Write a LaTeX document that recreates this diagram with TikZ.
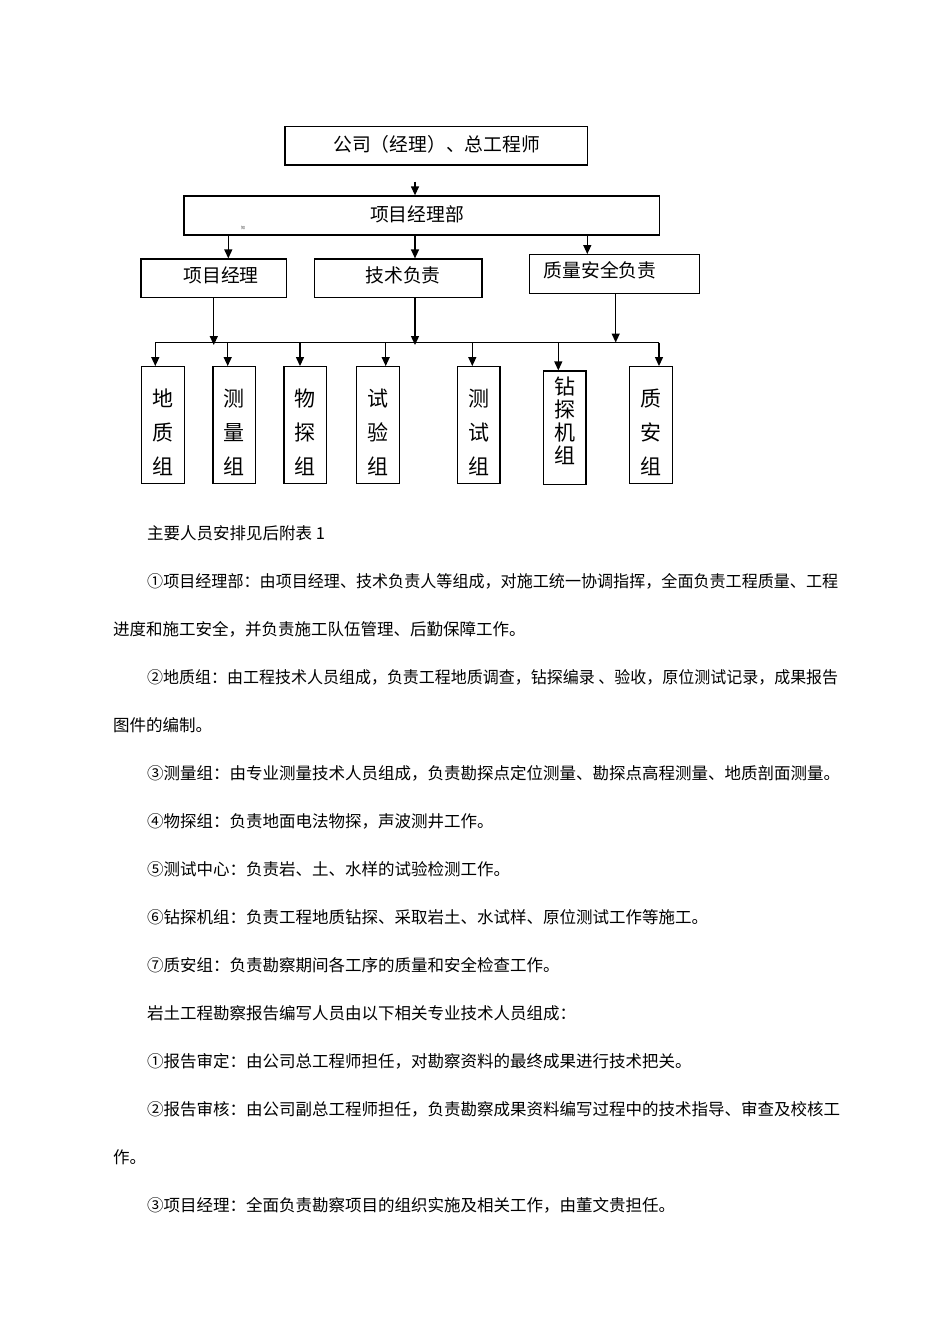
\documentclass[tikz,border=0pt]{standalone}
\usepackage{fontspec}
\usepackage{graphicx}
\setmainfont{Noto Sans CJK SC}
\usetikzlibrary{arrows.meta}
\begin{document}
\begin{tikzpicture}[x=1pt,y=-1pt,
  box/.style={draw, line width=1.3pt, inner sep=0pt},
  arr/.style={line width=1.3pt, -{Triangle[length=9pt,width=8pt]}},
  ln/.style={line width=1.3pt},
  lbl/.style={inner sep=0pt, font=\fontsize{18.8}{20}\selectfont},
  vlbl/.style={inner sep=0pt, align=center, font=\fontsize{21}{34}\selectfont},
  vlblb/.style={inner sep=0pt, align=center, font=\fontsize{21}{23}\selectfont},
  body/.style={inner sep=0pt, anchor=west, font=\fontsize{16.5}{18}\selectfont},
  gbox/.style={box, minimum width=42.7pt, minimum height=116.6pt}
]
\fill[white] (0,0) rectangle (950,1344);
\useasboundingbox (0,0) rectangle (950,1344);

% upper boxes
\node (top) [box, minimum width=302.7pt, minimum height=38.3pt] at (436.3,145.9) {};
\node (toptxt) [lbl] at (436.7,144.3) {公司（经理）、总工程师};
\node (pmd) [box, minimum width=475.3pt, minimum height=39pt] at (421.7,215.5) {};
\node (pmdtxt) [lbl] at (417,214) {项目经理部};
\node (mark) [inner sep=0pt, font=\fontsize{4}{4}\selectfont, text=black!70] at (243,228) {知};
\node (pm) [box, minimum width=145.5pt, minimum height=38.3pt] at (213.8,278.2) {};
\node (pmtxt) [lbl] at (221,275.5) {项目经理};
\node (tech) [box, minimum width=167.2pt, minimum height=38.3pt] at (398.4,278.2) {};
\node (techtxt) [lbl] at (403,275.5) {技术负责};
\node (qs) [box, minimum width=170pt, minimum height=38.6pt] at (614.5,274) {};
\node (qstxt) [lbl] at (600,270.7) {质量安全负责};

% group boxes
\node (b1) [gbox] at (163,425) {};
\node (b2) [gbox] at (234.35,425) {};
\node (b3) [gbox] at (305.35,425) {};
\node (b4) [gbox] at (378,425) {};
\node (b5) [gbox] at (478.65,425) {};
\node (b6) [box, minimum width=42.7pt, minimum height=113.3pt] at (564.65,427.7) {};
\node (b7) [gbox] at (650.8,425) {};

\node (b1t) [vlbl] at (163,432.7) {地\\质\\组};
\node (b2t) [vlbl] at (234.35,432.7) {测\\量\\组};
\node (b3t) [vlbl] at (305.35,432.7) {物\\探\\组};
\node (b4t) [vlbl] at (378,432.7) {试\\验\\组};
\node (b5t) [vlbl] at (478.65,432.7) {测\\试\\组};
\node (b6t) [vlblb] at (564.65,420.5) {钻\\探\\机\\组};
\node (b7t) [vlbl] at (650.8,432.7) {质\\安\\组};

% connectors
\coordinate (a0) at (415,181.7);
\draw[arr] (a0) -- (a0 |- pmd.north);
\coordinate (a1) at (228.3,0);
\coordinate (a2) at (415,0);
\coordinate (a3) at (587.3,0);
\draw[arr] (a1 |- pmd.south) -- (a1 |- pm.north);
\draw[arr] (a2 |- pmd.south) -- (a2 |- tech.north);
\draw[arr] (a3 |- pmd.south) -- (a3 |- qs.north);

\coordinate (k1) at (213.8,345);
\coordinate (k2) at (415,345);
\coordinate (k3) at (615.7,342.5);
\draw[arr] (k1 |- pm.south) -- (k1);
\draw[arr] (k2 |- tech.south) -- (k2);
\draw[arr] (k3 |- qs.south) -- (k3);

\coordinate (j1) at (155.3,342.5);
\coordinate (j2) at (227.7,342.5);
\coordinate (j3) at (300,342.5);
\coordinate (j4) at (385.7,342.5);
\coordinate (j5) at (472.3,342.5);
\coordinate (j6) at (558.3,342.5);
\coordinate (j7) at (659,342.5);
\draw[ln] (j1) -- (j7);
\draw[arr] (j1) -- (j1 |- b1.north);
\draw[arr] (j2) -- (j2 |- b2.north);
\draw[arr] (j3) -- (j3 |- b3.north);
\draw[arr] (j4) -- (j4 |- b4.north);
\draw[arr] (j5) -- (j5 |- b5.north);
\draw[arr] (j6) -- (j6 |- b6.north);
\draw[arr] (j7) -- (j7 |- b7.north);

% body text
\node (t1) [body] at (147,533) {主要人员安排见后附表 1};
\node (t2) [body] at (147,581) {\resizebox{691pt}{\height}{①项目经理部：由项目经理、技术负责人等组成，对施工统一协调指挥，全面负责工程质量、工程}};
\node (t3) [body] at (113,629) {进度和施工安全，并负责施工队伍管理、后勤保障工作。};
\node (t4) [body] at (147,677) {\resizebox{691pt}{\height}{②地质组：由工程技术人员组成，负责工程地质调查，钻探编录 、验收，原位测试记录，成果报告}};
\node (t5) [body] at (113,725) {图件的编制。};
\node (t6) [body] at (147,773) {③测量组：由专业测量技术人员组成，负责勘探点定位测量、勘探点高程测量、地质剖面测量。};
\node (t7) [body] at (147,821) {④物探组：负责地面电法物探，声波测井工作。};
\node (t8) [body] at (147,869) {⑤测试中心：负责岩、土、水样的试验检测工作。};
\node (t9) [body] at (147,917) {⑥钻探机组：负责工程地质钻探、采取岩土、水试样、原位测试工作等施工。};
\node (t10) [body] at (147,965) {⑦质安组：负责勘察期间各工序的质量和安全检查工作。};
\node (t11) [body] at (147,1013) {岩土工程勘察报告编写人员由以下相关专业技术人员组成：};
\node (t12) [body] at (147,1061) {①报告审定：由公司总工程师担任，对勘察资料的最终成果进行技术把关。};
\node (t13) [body] at (147,1109) {②报告审核：由公司副总工程师担任，负责勘察成果资料编写过程中的技术指导、审查及校核工};
\node (t14) [body] at (113,1157) {作。};
\node (t15) [body] at (147,1205) {③项目经理：全面负责勘察项目的组织实施及相关工作，由董文贵担任。};
\end{tikzpicture}
\end{document}
